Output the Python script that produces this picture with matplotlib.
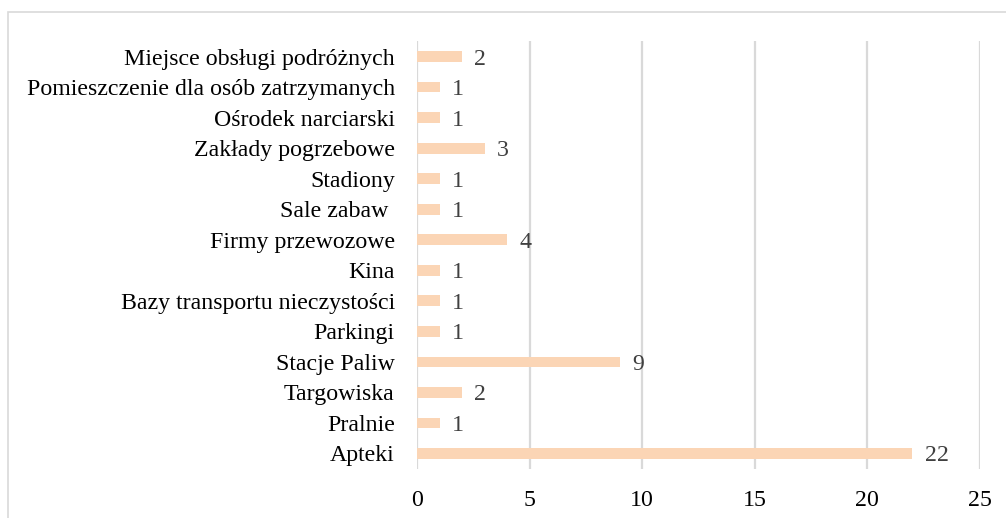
import matplotlib.pyplot as plt
from matplotlib.patches import Rectangle

categories = ['Apteki', 'Pralnie', 'Targowiska', 'Stacje Paliw', 'Parkingi',
              'Bazy transportu nieczystości', 'Kina', 'Firmy przewozowe',
              'Sale zabaw ', 'Stadiony', 'Zakłady pogrzebowe',
              'Ośrodek narciarski', 'Pomieszczenie dla osób zatrzymanych',
              'Miejsce obsługi podróżnych']
values = [22, 1, 2, 9, 1, 1, 1, 4, 1, 1, 3, 1, 1, 2]
xticks = [0, 5, 10, 15, 20, 25]

plt.rcParams['font.family'] = ['Liberation Serif', 'DejaVu Serif']


def main():
    fig = plt.figure(figsize=(10.06, 5.18), dpi=100)
    ax = fig.add_axes([0.4145, 0.0952, 0.5595, 0.825])

    # outer chart frame (cropped on right and bottom)
    fig.patches.append(Rectangle((8 / 1006, -0.1), 1.1, 1 - 12 / 518 + 0.1,
                                 transform=fig.transFigure, fill=False,
                                 edgecolor='#d9d9d9', linewidth=1.2))

    y = range(len(categories))
    ax.barh(y, values, height=0.35, color='#fbd5b5', zorder=3)
    for yi, v in zip(y, values):
        ax.text(v + 0.55, yi, str(v), va='center_baseline', ha='left',
                fontsize=17.2, color='#404040')

    ax.set_yticks(list(y))
    ax.set_yticklabels(categories, fontsize=17.2, color='black',
                       va='center_baseline')
    ax.set_xticks(xticks)
    ax.set_xticklabels([str(t) for t in xticks], fontsize=17.2)
    ax.set_xlim(0, 25)
    ax.set_ylim(-0.5, len(categories) - 0.5)
    ax.tick_params(axis='both', length=0)
    ax.tick_params(axis='y', pad=16)
    ax.tick_params(axis='x', pad=15)
    ax.grid(axis='x', color='#d9d9d9', linewidth=1.6, zorder=0)
    for s in ax.spines.values():
        s.set_visible(False)

    fig.savefig('out.png', dpi=100)


if __name__ == "__main__":
    main()
